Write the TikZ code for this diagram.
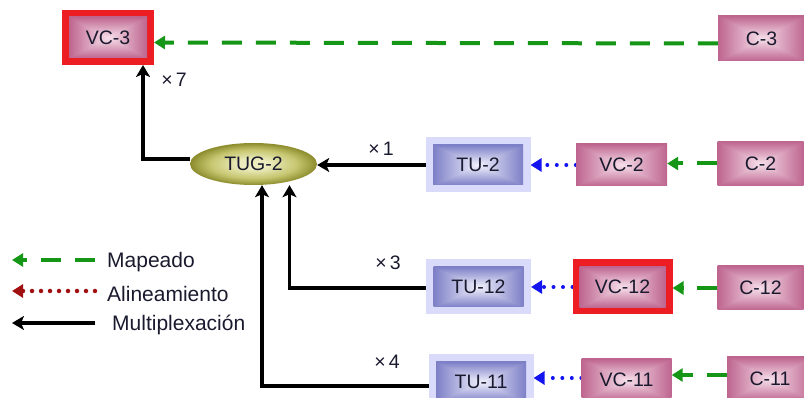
\documentclass[tikz,border=0pt]{standalone}
\usepackage{fontspec}
\setmainfont{Liberation Sans}
\usetikzlibrary{arrows.meta,shapes.geometric,backgrounds}

\definecolor{ink}{RGB}{26,26,46}
\definecolor{framered}{RGB}{236,30,36}
\definecolor{halo}{RGB}{218,218,250}
\definecolor{mapgreen}{RGB}{22,150,22}
\definecolor{alblue}{RGB}{20,20,240}
\definecolor{aldark}{RGB}{160,16,16}
\definecolor{olivedge}{RGB}{140,140,45}
\definecolor{olivmid}{RGB}{198,198,112}
\definecolor{olivcore}{RGB}{236,236,190}

% pyramid gradients: light centre, darker rim (path box = inner 50bp square)
\pgfdeclarefunctionalshading{pinkpyr}{\pgfpoint{-50bp}{-50bp}}{\pgfpoint{50bp}{50bp}}{}{
  abs exch abs 2 copy lt {exch} if pop 25 div dup 1 gt {pop 1} if
  dup -0.22 mul 0.965 add exch
  dup -0.48 mul 0.875 add exch
  -0.36 mul 0.92 add
}
\pgfdeclarefunctionalshading{bluepyr}{\pgfpoint{-50bp}{-50bp}}{\pgfpoint{50bp}{50bp}}{}{
  abs exch abs 2 copy lt {exch} if pop 25 div dup 1 gt {pop 1} if
  dup -0.45 mul 0.94 add exch
  dup -0.44 mul 0.94 add exch
  -0.205 mul 0.985 add
}
\pgfdeclareradialshading{olivglow}{\pgfpoint{0bp}{0bp}}{
  color(0bp)=(olivcore); color(6bp)=(olivcore); color(17bp)=(olivmid); color(25bp)=(olivedge); color(50bp)=(olivedge)}

\begin{document}
\begin{tikzpicture}[x=1pt,y=-1pt,
  lbl/.style={font=\fontsize{19.5}{22}\selectfont, text=ink},
  leg/.style={font=\fontsize{21}{24}\selectfont, text=ink, anchor=west, inner sep=0pt},
  cbox/.style={lbl, shading=pinkpyr, inner sep=0pt, minimum width=86pt, minimum height=44pt},
  vcbox/.style={lbl, shading=pinkpyr, inner sep=0pt, minimum width=90pt, minimum height=42pt},
  redframe/.style={preaction={draw=framered, line width=14pt}, outer sep=7pt},
  tubox/.style={lbl, shading=bluepyr, inner sep=0pt, minimum width=90pt, minimum height=40pt,
    preaction={draw=halo, line width=15pt}, outer sep=7.5pt},
  tug/.style={lbl, ellipse, shading=olivglow, inner sep=0pt, minimum width=127pt, minimum height=42pt},
  mapeo/.style={draw=mapgreen, line width=4pt, dash pattern=on 20pt off 14pt,
    -{Triangle[length=11pt,width=13pt]}},
  alin/.style={line width=4pt, line cap=round, dash pattern=on 0pt off 9.5pt,
    -{Triangle[length=11pt,width=13pt]}},
  mux/.style={draw=black, line width=3.5pt, -{Stealth[length=12pt,width=14pt,inset=3pt]}}
]
\useasboundingbox (0,0) rectangle (804,398);

% containers
\node[vcbox, redframe, minimum width=78pt, minimum height=41pt] (VC3) at (108,37.5) {VC-3};
\node[cbox, minimum width=87pt, minimum height=45pt] (C3) at (761.5,38.5) {C-3};
\node[tug] (TUG2) at (253.5,164) {TUG-2};

\node[tubox] (TU2) at (478,165) {TU-2};
\node[vcbox, minimum width=91pt] (VC2) at (621.5,165) {VC-2};
\node[cbox] (C2) at (760.5,163.5) {C-2};

\node[tubox] (TU12) at (478.5,287) {TU-12};
\node[vcbox, redframe, minimum width=86pt, minimum height=41pt] (VC12) at (622.5,287) {VC-12};
\node[cbox] (C12) at (760.5,288) {C-12};

\node[tubox] (TU11) at (481,382) {TU-11};
\node[vcbox] (VC11) at (626.5,380) {VC-11};
\node[cbox] (C11) at (770,379) {C-11};

% multiplicity labels
\node[lbl] (m7) at (174,80) {×\,7};
\node[lbl] (m1) at (381,149) {×\,1};
\node[lbl] (m3) at (388,263) {×\,3};
\node[lbl] (m4) at (387,362) {×\,4};

% legend
\coordinate (lg1a) at (95,260); \coordinate (lg1b) at (12,260);
\coordinate (lg2a) at (95,291); \coordinate (lg2b) at (12,291);
\coordinate (lg3a) at (95,323); \coordinate (lg3b) at (12,323);
\node[leg] (t1) at (107,262) {Mapeado};
\node[leg] (t2) at (107,294) {Alineamiento};
\node[leg] (t3) at (112,325) {Multiplexación};

\begin{scope}[on background layer]
  % mapping
  \draw[mapeo] ([yshift=-5pt]C3.west) -- ([yshift=-5pt]VC3.east);
  \draw[mapeo] (C2.west) -- (VC2.east |- C2.west);
  \draw[mapeo] (C12.west) -- (VC12.east |- C12.west);
  \draw[mapeo] ([yshift=4pt]C11.west) -- ([yshift=4pt]VC11.east |- C11.west);
  % alignment
  \draw[alin, draw=alblue, alblue] (VC2.west) -- (TU2.east);
  \draw[alin, draw=alblue, alblue] (VC12.west) -- (TU12.east);
  \draw[alin, draw=alblue, alblue] ([yshift=2pt]VC11.west) -- ([yshift=2pt]TU11.east |- VC11.west);
  % multiplexing
  \draw[mux] ([yshift=5pt]TUG2.west) -| ([xshift=35pt]VC3.south);
  \draw[mux] (TU2.west) -- (TUG2.east |- TU2.west);
  \draw[mux] ([yshift=-1pt]TU12.west) -| ([xshift=36pt]TUG2.south);
  \draw[mux] ([yshift=-4pt]TU11.west) -| ([xshift=8.5pt]TUG2.south);
  % legend lines
  \draw[mapeo] (lg1a) -- (lg1b);
  \draw[alin, draw=aldark, aldark, line width=4.5pt, dash pattern=on 0pt off 9pt] (lg2a) -- (lg2b);
  \draw[mux] (lg3a) -- (lg3b);
\end{scope}
\end{tikzpicture}
\end{document}
